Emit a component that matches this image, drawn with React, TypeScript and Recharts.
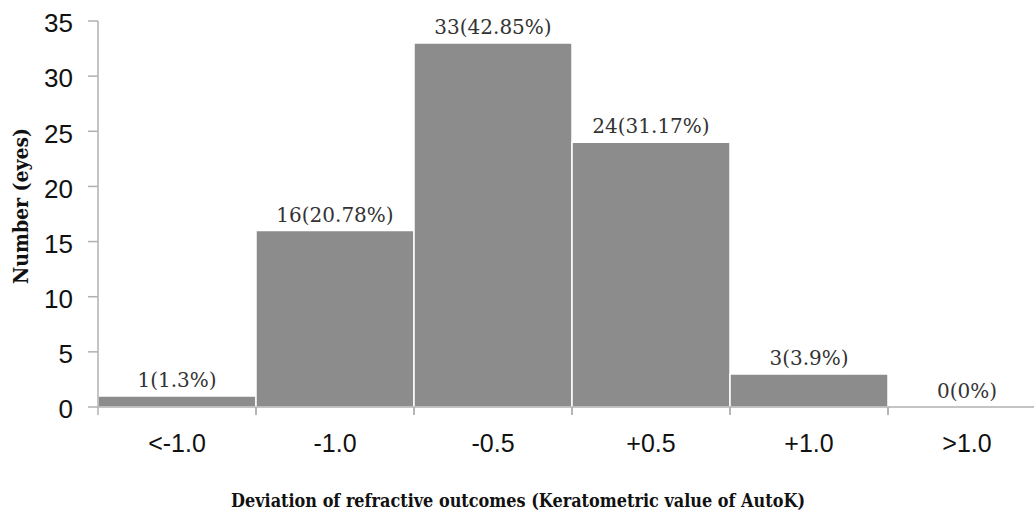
import React from 'react';
import { ComposedChart, Bar, Line, XAxis, YAxis, LabelList } from 'recharts';

const categories = ['<-1.0', '-1.0', '-0.5', '+0.5', '+1.0', '>1.0'];
const counts = [1, 16, 33, 24, 3, 0];
const percents = ['1.3%', '20.78%', '42.85%', '31.17%', '3.9%', '0%'];
const yTicks = [0, 5, 10, 15, 20, 25, 30, 35];

const data = categories.map((c, i) => ({
  category: c,
  count: counts[i],
  label: `${counts[i]}(${percents[i]})`,
}));

const CHART_W = 1060;
const CHART_H = 512;
const MARGIN = { top: 21, right: 14, bottom: 0, left: 0 };
const Y_AXIS_W = 98;
const X_AXIS_H = 105;
const BAND = (CHART_W - MARGIN.left - MARGIN.right - Y_AXIS_W) / categories.length;
const AXIS_COLOR = '#b0b0b0';
const SANS = '"Liberation Sans", Arial, sans-serif';
const SERIF = '"DejaVu Serif", serif';

const XTick = (props: any) => {
  const { x, y, payload } = props;
  const left = x - BAND / 2;
  return (
    <g>
      <line x1={left} y1={y} x2={left} y2={y + 8} stroke={AXIS_COLOR} strokeWidth={1.5} />
      <line x1={left + BAND} y1={y} x2={left + BAND} y2={y + 8} stroke={AXIS_COLOR} strokeWidth={1.5} />
      <text x={x} y={y + 45} textAnchor="middle" fontFamily={SANS} fontSize={25} fill="#111">
        {payload.value}
      </text>
    </g>
  );
};

const XLabel = () => (
  <text
    x={518}
    y={507}
    textAnchor="middle"
    fontFamily={SERIF}
    fontWeight="bold"
    fontSize={18}
    textLength={574}
    lengthAdjust="spacingAndGlyphs"
    fill="#111"
  >
    Deviation of refractive outcomes (Keratometric value of AutoK)
  </text>
);

const YLabel = () => (
  <text
    x={21}
    y={206}
    transform="rotate(-90 21 206)"
    textAnchor="middle"
    dominantBaseline="central"
    fontFamily={SERIF}
    fontWeight="bold"
    fontSize={20}
    textLength={156}
    lengthAdjust="spacingAndGlyphs"
    fill="#111"
  >
    Number (eyes)
  </text>
);

export default function App() {
  return (
    <div
      style={{
        position: 'fixed',
        left: 0,
        top: 0,
        width: 1034,
        height: 512,
        overflow: 'hidden',
        background: '#fff',
      }}
    >
      <ComposedChart width={CHART_W} height={CHART_H} data={data} margin={MARGIN} barCategoryGap={0}>
        <XAxis
          dataKey="category"
          height={X_AXIS_H}
          stroke={AXIS_COLOR}
          strokeWidth={1.5}
          tickLine={false}
          tickSize={0}
          tickMargin={0}
          tick={<XTick />}
          interval={0}
          label={<XLabel />}
        />
        <YAxis
          width={Y_AXIS_W}
          domain={[0, 35]}
          ticks={yTicks}
          interval={0}
          stroke={AXIS_COLOR}
          strokeWidth={1.5}
          tickSize={10}
          tickMargin={15}
          tick={{ fontFamily: SANS, fontSize: 26, fill: '#111', dy: 2 }}
          label={<YLabel />}
        />
        <Bar dataKey="count" fill="#8c8c8c" stroke="#ffffff" strokeWidth={1.5} isAnimationActive={false} />
        <Line
          dataKey="count"
          stroke="none"
          dot={false}
          activeDot={false}
          isAnimationActive={false}
        >
          <LabelList dataKey="label" position="top" offset={9} fontFamily={SERIF} fontSize={20} fill="#333" />
        </Line>
      </ComposedChart>
    </div>
  );
}
